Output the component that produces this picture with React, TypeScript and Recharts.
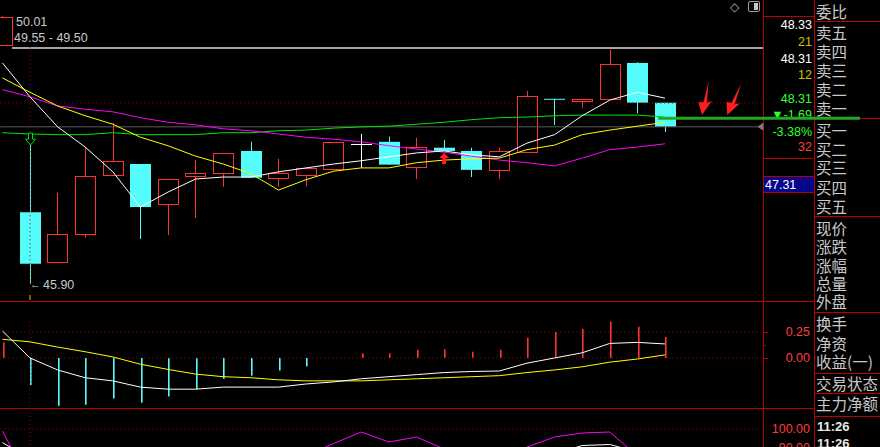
import React from 'react';
import { ComposedChart, Bar, Line, XAxis, YAxis, ReferenceLine, ReferenceDot } from 'recharts';

// ---------- data (index -1 is the partly hidden bar at the left edge) ----------
const idx = [-1, 0, 1, 2, 3, 4, 5, 6, 7, 8, 9, 10, 11, 12, 13, 14, 15, 16, 17, 18, 19, 20, 21, 22, 23];
const openP = [49.57, 47.0, 46.24, 46.67, 47.57, 47.74, 47.13, 47.56, 47.6, 47.94, 47.53, 47.57, 47.66, 48.05, 48.08, 47.7, 47.99, 47.94, 47.65, 47.92, 48.74, 48.71, 48.74, 49.29, 48.68];
const highP = [50.01, 48.03, 47.3, 48.0, 48.37, 47.74, 47.51, 47.8, 47.91, 48.08, 47.82, 47.69, 48.08, 48.2, 48.16, 48.14, 48.11, 47.99, 47.99, 48.86, 48.74, 48.74, 49.49, 49.3, 48.68];
const lowP = [49.57, 45.9, 46.24, 46.61, 47.57, 46.59, 46.65, 46.91, 47.39, 47.53, 47.39, 47.4, 47.66, 47.68, 47.73, 47.51, 47.94, 47.54, 47.51, 47.92, 48.34, 48.6, 48.74, 48.52, 48.23];
const closeP = [49.99, 46.21, 46.67, 47.56, 47.79, 47.08, 47.51, 47.6, 47.91, 47.53, 47.6, 47.68, 48.08, 48.05, 47.73, 48.0, 47.94, 47.65, 47.94, 48.78, 48.73, 48.74, 49.27, 48.68, 48.31];
const ma5 = [49.29, 48.77, 48.31, 48.0, 47.62, 47.08, 47.31, 47.51, 47.54, 47.54, 47.62, 47.68, 47.74, 47.79, 47.85, 47.91, 47.94, 47.88, 47.85, 48.06, 48.19, 48.48, 48.72, 48.84, 48.75];
const ma10 = [49.06, 48.84, 48.63, 48.48, 48.35, 48.15, 48.02, 47.86, 47.74, 47.59, 47.34, 47.5, 47.63, 47.68, 47.68, 47.76, 47.8, 47.82, 47.83, 47.96, 48.03, 48.19, 48.26, 48.32, 48.38];
const ma20 = [48.88, 48.77, 48.63, 48.58, 48.54, 48.45, 48.38, 48.34, 48.28, 48.25, 48.2, 48.15, 48.12, 48.08, 48.02, 47.97, 47.92, 47.86, 47.8, 47.76, 47.71, 47.83, 47.96, 48.0, 48.05];
const ma60 = [48.22, 48.2, 48.19, 48.19, 48.22, 48.19, 48.19, 48.19, 48.22, 48.22, 48.25, 48.26, 48.29, 48.31, 48.32, 48.35, 48.38, 48.42, 48.45, 48.46, 48.48, 48.49, 48.49, 48.49, 48.46];

const macdHist = [0.15, -0.26, -0.46, -0.45, -0.39, -0.43, -0.37, -0.3, -0.2, -0.17, -0.12, -0.08, 0.0, 0.045, 0.045, 0.08, 0.085, 0.06, 0.08, 0.195, 0.25, 0.28, 0.35, 0.3, 0.2];
const macdDif = [0.26, 0.0, -0.115, -0.19, -0.22, -0.28, -0.3, -0.3, -0.28, -0.28, -0.28, -0.25, -0.23, -0.2, -0.18, -0.16, -0.14, -0.13, -0.125, -0.05, 0.0, 0.05, 0.14, 0.15, 0.135];
const macdDea = [0.18, 0.155, 0.105, 0.06, 0.01, -0.06, -0.11, -0.155, -0.18, -0.19, -0.21, -0.22, -0.22, -0.22, -0.21, -0.2, -0.19, -0.18, -0.17, -0.14, -0.115, -0.085, -0.04, -0.01, 0.03];

const lowerPurple = [99, 73, 70, 68, 70, 72, 70, 72, 75, 78, 80, 86.7, 92.75, 98.5, 93.5, 96, 90, 85, 84, 91, 96, 98, 98.5, 86.5, 80];
const lowerWhite = [93.25, 85, 80, 78, 76, 75, 74, 73, 73, 73, 74, 75, 76, 77, 78, 79, 80, 81, 82, 83, 87.5, 91.75, 92.25, 88.5, 85];

// order-book column texts
const bookLabels = ['委比', '卖五', '卖四', '卖三', '卖二', '卖一', '买一', '买二', '买三', '买四', '买五', '现价', '涨跌', '涨幅', '总量', '外盘', '换手', '净资', '收益(一)', '交易状态', '主力净额'];
const quoteTexts = ['48.33', '21', '48.31', '12', '48.31', '▼-1.69', '-3.38%', '32'];
const macdTicks = ['0.25', '0.00'];
const lowerTicks = ['100.00', '90.00'];
const timeTexts = ['11:26', '11:26'];
const priceNotes = ['50.01', '49.55 - 49.50', '45.90'];
const selectedPrice = '47.31';

// annotation levels (values)
const GRAY_LEVEL = 49.52;
const LAST_PRICE = 48.31;
const CROSS_PRICE = 48.675;
const DRAWN_LEVEL = 48.44;
const arrowNotes = [
  { i: 24.34, p: 48.49, angle: 11 },
  { i: 25.25, p: 48.49, angle: 24 },
];

// ---------- layout / style ----------
const W = 880;
const X_DOMAIN: [number, number] = [-1.0866, 30.786];
const PRICE_DOMAIN: [number, number] = [45.639, 50.255];
const MACD_DOMAIN: [number, number] = [-0.481, 0.548];
const LOWER_DOMAIN: [number, number] = [91, 110.5];
const RED = '#ff3232';
const CYAN = '#54fcfc';
const GRID = '#bc0000';
const DOT = '#9a0000';
const TXT = '#c8c8c8';
const NUMFONT = '"Liberation Sans", Arial, sans-serif';
const CJKFONT = '"Noto Sans CJK SC", sans-serif';

const priceData = idx.map((i, k) => ({
  i, open: openP[k], high: highP[k], low: lowP[k], close: closeP[k],
  ma5: ma5[k], ma10: ma10[k], ma20: ma20[k], ma60: ma60[k],
}));
const macdData = idx.map((i, k) => ({ i, hist: macdHist[k], dif: macdDif[k], dea: macdDea[k] }));
const lowerData = idx.map((i, k) => ({ i, a: lowerPurple[k], b: lowerWhite[k] }));

const Candle = (props: any) => {
  const { x, y, width, height, payload } = props;
  if (x == null || y == null || !payload) return null;
  const top = Math.min(y, y + height);
  const bot = Math.max(y, y + height);
  const { open, close, high, low } = payload;
  const range = high - low;
  const py = (v: number) => (range > 0 ? top + ((high - v) / range) * (bot - top) : top);
  const c = Math.round(x + width / 2);
  const cx = c + 0.5;
  const left = c - 10;
  const yO = py(open);
  const yC = py(close);
  const bTop = Math.min(yO, yC);
  const bBot = Math.max(yO, yC);
  if (close > open) {
    const t = Math.round(bTop) + 0.5;
    const b = Math.max(Math.round(bBot) + 0.5, t + 1);
    return (
      <g>
        {top < t && <line x1={cx} x2={cx} y1={top} y2={t} stroke={RED} strokeWidth={1} />}
        {b < bot && <line x1={cx} x2={cx} y1={b} y2={bot} stroke={RED} strokeWidth={1} />}
        <rect x={left + 0.5} y={t} width={20} height={b - t} fill="#000" stroke={RED} strokeWidth={1} />
      </g>
    );
  }
  if (close < open) {
    return (
      <g>
        <line x1={cx} x2={cx} y1={top} y2={bot} stroke={CYAN} strokeWidth={1} />
        <rect x={left} y={bTop} width={21} height={Math.max(bBot - bTop, 1)} fill={CYAN} />
      </g>
    );
  }
  return (
    <g>
      <line x1={cx} x2={cx} y1={top} y2={bot} stroke="#ffffff" strokeWidth={1} />
      <line x1={left} x2={left + 21} y1={Math.round(yO) + 0.5} y2={Math.round(yO) + 0.5} stroke="#ffffff" strokeWidth={1} />
    </g>
  );
};

const HistBar = (props: any) => {
  const { x, y, width, height, payload } = props;
  if (x == null || y == null || !payload) return null;
  const top = Math.min(y, y + height);
  const h = Math.abs(height);
  if (h < 0.5) return null;
  const c = Math.round(x + width / 2);
  return <rect x={c} y={top} width={1.6} height={h} fill={payload.hist >= 0 ? RED : CYAN} />;
};

const RedArrow = (angle: number) => (props: any) => {
  const { cx, cy } = props;
  if (cx == null) return null;
  return (
    <polygon
      transform={`translate(${cx},${cy}) rotate(${angle})`}
      points="0,-34 2.5,-13 7,-16 0,0 -6,-12 -1,-13"
      fill="#ff1e1e"
    />
  );
};

const HollowDown = (props: any) => {
  const { cx, cy } = props;
  if (cx == null) return null;
  return (
    <polygon
      transform={`translate(${cx + 0.5},${cy})`}
      points="-2,-12 2,-12 2,-6 5,-6 0,0 -5,-6 -2,-6"
      fill="#000"
      stroke="#00e000"
      strokeWidth={1}
    />
  );
};

const SolidUp = (props: any) => {
  const { cx, cy } = props;
  if (cx == null) return null;
  return (
    <polygon
      transform={`translate(${cx},${cy})`}
      points="0,0 5,5 2,5 2,11 -2,11 -2,5 -5,5"
      fill="#ff1e1e"
    />
  );
};

const LeftTri = (props: any) => {
  const { cx, cy } = props;
  if (cx == null) return null;
  return <polygon points={`${cx - 3},${cy} ${cx + 3},${cy - 4} ${cx + 3},${cy + 4}`} fill="#7a7a7a" />;
};

const T = ({ x, cy, children, color = TXT, size = 12, right, font = NUMFONT, bold = false, lhScale = 1.15 }: any) => {
  const lh = Math.round(size * lhScale);
  const style: any = {
    position: 'absolute', top: cy - lh / 2, height: lh, lineHeight: `${lh}px`,
    fontSize: size, color, fontFamily: font, whiteSpace: 'nowrap', fontWeight: bold ? 700 : 400,
  };
  if (right != null) style.right = W - right; else style.left = x;
  return <div style={style}>{children}</div>;
};

const HL = ({ x1, x2, y, color = GRID }: any) => (
  <div style={{ position: 'absolute', left: x1, top: y, width: x2 - x1, height: 1, background: color }} />
);
const VL = ({ x, y1, y2, color = GRID }: any) => (
  <div style={{ position: 'absolute', left: x, top: y1, width: 1, height: y2 - y1, background: color }} />
);

const bookY = [11, 31.5, 51, 69.5, 89, 107.5, 130, 148.5, 167, 186.5, 205.5, 227.5, 246, 264.5, 283, 301, 323, 342.5, 361, 382.5, 402.5];
const quoteY = [25, 42.5, 59.5, 75.5, 99.5, 115, 132.5, 147.5];
const quoteColors = ['#ffffff', '#c8c800', '#ffffff', '#c8c800', '#33ff33', '#33ff33', '#33ff33', '#ff4040'];

const noDot = { dot: false, activeDot: false, isAnimationActive: false, strokeWidth: 1, type: 'linear' as const };

export default function App() {
  const margin = { top: 0, right: 0, bottom: 0, left: 0 };
  return (
    <div style={{ position: 'fixed', left: 0, top: 0, width: W, height: 447, background: '#000', overflow: 'hidden' }}>
      {/* panel frame */}
      <VL x={763} y1={0} y2={447} />
      <VL x={814} y1={0} y2={447} />
      <HL x1={763} x2={814} y={16} />
      <HL x1={763} x2={814} y={158} />
      <HL x1={763} x2={814} y={176} />
      <HL x1={763} x2={814} y={192} />
      <HL x1={0} x2={814} y={301} />
      <HL x1={0} x2={814} y={408} />
      {[21, 118, 216, 312, 373, 393, 416].map((y) => (
        <HL key={y} x1={814} x2={880} y={y} />
      ))}
      {[332, 358].map((y) => (
        <HL key={y} x1={763} x2={768} y={y} />
      ))}
      <HL x1={763} x2={766} y={345} />
      <div style={{ position: 'absolute', left: 764, top: 177, width: 50, height: 15, background: '#06068a' }} />

      {/* order book text */}
      {bookLabels.map((s, k) => (
        <T key={s} x={816} cy={bookY[k]} size={15.5} font={CJKFONT} lhScale={1}>{s}</T>
      ))}
      {quoteTexts.map((s, k) => (
        <T key={k} right={812} cy={quoteY[k]} color={quoteColors[k]} size={12.5} lhScale={1.05}>{s}</T>
      ))}
      <T x={765} cy={184.5} color="#ffffff" size={12.5}>{selectedPrice}</T>
      <T right={810} cy={332} color="#ff3c3c" size={12.5}>{macdTicks[0]}</T>
      <T right={810} cy={358} color="#ff3c3c" size={12.5}>{macdTicks[1]}</T>
      <T right={810} cy={429} color="#ff3c3c" size={12.5}>{lowerTicks[0]}</T>
      <T right={810} cy={448} color="#ff3c3c" size={12.5}>{lowerTicks[1]}</T>
      <T x={817} cy={426} color="#e8e8e8" size={13} bold lhScale={1}>{timeTexts[0]}</T>
      <T x={817} cy={443} color="#e8e8e8" size={13} bold lhScale={1}>{timeTexts[1]}</T>

      {/* top icons */}
      <T x={730} cy={7} color="#b0b0b0" size={12} lhScale={1}>◇</T>
      <div style={{ position: 'absolute', left: 748, top: 1, width: 10, height: 9, border: '1px solid #a0a0a0', borderRadius: 2 }}>
        <div style={{ position: 'absolute', left: 5, top: 1, width: 4, height: 7, background: '#c8c8c8' }} />
      </div>

      {/* price labels */}
      <T x={1} cy={17} size={11}>←</T>
      <T x={16} cy={22} size={12.5}>{priceNotes[0]}</T>
      <T x={14} cy={38} size={12.5}>{priceNotes[1]}</T>
      <T x={30} cy={284} size={11}>←</T>
      <T x={43} cy={285} size={12.5}>{priceNotes[2]}</T>

      {/* price panel */}
      <div style={{ position: 'absolute', left: 0, top: 0 }}>
        <ComposedChart width={W} height={301} data={priceData} margin={margin}>
          <XAxis type="number" dataKey="i" domain={X_DOMAIN} hide allowDataOverflow />
          <YAxis type="number" domain={PRICE_DOMAIN} hide allowDataOverflow />
          <ReferenceLine segment={[{ x: -0.65, y: GRAY_LEVEL }, { x: 26.55, y: GRAY_LEVEL }]} stroke="#a4a4a4" strokeWidth={2} />
          <ReferenceLine segment={[{ x: -1.08, y: LAST_PRICE }, { x: 26.37, y: LAST_PRICE }]} stroke="#5c5c5c" strokeWidth={1} />
          <ReferenceLine segment={[{ x: -1.08, y: CROSS_PRICE }, { x: 26.5, y: CROSS_PRICE }]} stroke={DOT} strokeDasharray="1 3" />
          <ReferenceLine segment={[{ x: 0, y: 49.53 }, { x: 0, y: PRICE_DOMAIN[0] }]} stroke={DOT} strokeDasharray="1 3" />
          <ReferenceLine segment={[{ x: 0, y: 45.73 }, { x: 0, y: 45.655 }]} stroke="#c8c800" strokeWidth={1} />
          <Bar dataKey={(d: any) => [d.low, d.high]} barSize={21} shape={(p: any) => <Candle {...p} />} isAnimationActive={false} />
          <Line dataKey="ma60" stroke="#00e800" {...noDot} />
          <Line dataKey="ma20" stroke="#ff00ff" {...noDot} />
          <Line dataKey="ma10" stroke="#ffff00" {...noDot} />
          <Line dataKey="ma5" stroke="#ffffff" {...noDot} />
          <ReferenceDot x={0} y={highP[1]} shape={(p: any) => <HollowDown {...p} />} />
          <ReferenceDot x={15} y={47.91} shape={(p: any) => <SolidUp {...p} />} />
          <ReferenceDot x={26.45} y={LAST_PRICE} shape={(p: any) => <LeftTri {...p} />} />
          <ReferenceLine segment={[{ x: 22.75, y: DRAWN_LEVEL }, { x: 30.06, y: DRAWN_LEVEL }]} stroke="#22a822" strokeWidth={3} />
          {arrowNotes.map((a, k) => (
            <ReferenceDot key={k} x={a.i} y={a.p} shape={RedArrow(a.angle)} />
          ))}
        </ComposedChart>
      </div>

      {/* MACD panel */}
      <div style={{ position: 'absolute', left: 0, top: 301 }}>
        <ComposedChart width={W} height={107} data={macdData} margin={margin}>
          <XAxis type="number" dataKey="i" domain={X_DOMAIN} hide allowDataOverflow />
          <YAxis type="number" domain={MACD_DOMAIN} hide allowDataOverflow />
          <ReferenceLine segment={[{ x: -1.08, y: 0.25 }, { x: 26.45, y: 0.25 }]} stroke={DOT} strokeDasharray="1 3" />
          <ReferenceLine segment={[{ x: -1.08, y: 0 }, { x: 26.45, y: 0 }]} stroke={DOT} strokeDasharray="1 3" />
          <ReferenceLine segment={[{ x: 0, y: 0.356 }, { x: 0, y: MACD_DOMAIN[0] }]} stroke={DOT} strokeDasharray="1 3" />
          <Bar dataKey="hist" barSize={2} shape={(p: any) => <HistBar {...p} />} isAnimationActive={false} />
          <Line dataKey="dea" stroke="#ffff00" {...noDot} />
          <Line dataKey="dif" stroke="#ffffff" {...noDot} />
        </ComposedChart>
      </div>

      {/* lower indicator panel */}
      <div style={{ position: 'absolute', left: 0, top: 408 }}>
        <ComposedChart width={W} height={39} data={lowerData} margin={margin}>
          <XAxis type="number" dataKey="i" domain={X_DOMAIN} hide allowDataOverflow />
          <YAxis type="number" domain={LOWER_DOMAIN} hide allowDataOverflow />
          <ReferenceLine segment={[{ x: -1.08, y: 100 }, { x: 26.45, y: 100 }]} stroke={DOT} strokeDasharray="1 3" />
          <ReferenceLine segment={[{ x: 0, y: 110.5 }, { x: 0, y: 91 }]} stroke={DOT} strokeDasharray="1 3" />
          <Line dataKey="b" stroke="#ffffff" {...noDot} />
          <Line dataKey="a" stroke="#ff00ff" {...noDot} />
        </ComposedChart>
      </div>
    </div>
  );
}
